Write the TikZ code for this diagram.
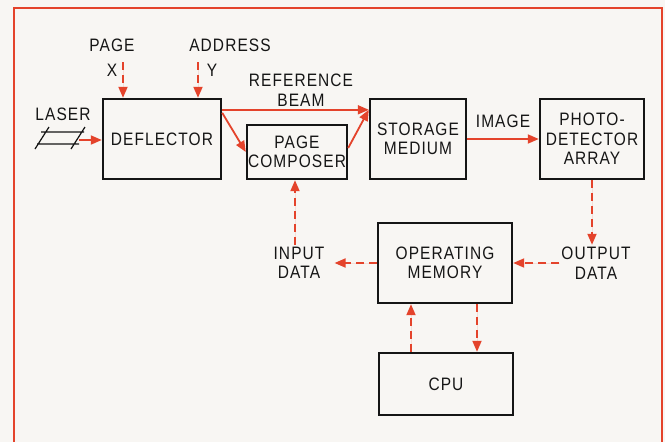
\documentclass[tikz,border=0pt]{standalone}
\usepackage{fontspec}
\setmainfont[FakeStretch=0.86, LetterSpace=6]{Liberation Sans}
\usetikzlibrary{arrows.meta,positioning,calc}
\definecolor{hmred}{HTML}{E4432B}
\definecolor{hmpaper}{HTML}{F8F6F3}
\definecolor{hmink}{HTML}{151515}
\tikzset{
  hm/.style={font=\fontsize{18}{19.5}\selectfont, text=hmink},
  hmbox/.style={draw=hmink, line width=2.4pt, align=center, inner sep=0pt},
  hmarr/.style={-{Triangle[length=11pt,width=9pt]}, line width=1.8pt, draw=hmred, fill=hmred},
  hmdash/.style={hmarr, dash pattern=on 8pt off 5pt},
  hmlbl/.style={align=center, inner sep=2pt},
}
\begin{document}
\begin{tikzpicture}[hm, x=1pt, y=-1pt]
  \useasboundingbox[fill=hmpaper] (0,0) rectangle (665,442);
  \draw[hmred, line width=2.4pt] (14,445) -- (14,8) -- (662,8) -- (662,445);

  \node[hmbox, minimum width=118pt, minimum height=80pt] (defl) at (162,139) {DEFLECTOR};
  \node[hmbox, minimum width=100pt, minimum height=54pt] (comp) at (297,152) {PAGE\\COMPOSER};
  \node[hmbox, minimum width=96pt, minimum height=80pt] (stor) at (418,139) {STORAGE\\MEDIUM};
  \node[hmbox, minimum width=104pt, minimum height=80pt] (photo) at (592,139) {PHOTO-\\DETECTOR\\ARRAY};
  \node[hmbox, minimum width=134pt, minimum height=80pt] (opmem) at (445,263) {OPERATING\\MEMORY};
  \node[hmbox, minimum width=134pt, minimum height=62pt] (cpu) at (446,384) {CPU};

  \node[hmlbl] (page) at (112,45) {PAGE};
  \node[hmlbl] (xlbl) at (112,70) {X};
  \node[hmlbl] (addr) at (230,45) {ADDRESS};
  \node[hmlbl] (ylbl) at (212,70) {Y};
  \node[hmlbl] (laser) at (63,114) {LASER};
  \node[hmlbl] (refbeam) at (301,90) {REFERENCE\\BEAM};
  \node[hmlbl] (image) at (503,121) {IMAGE};
  \node[hmlbl] (outdata) at (596,263) {OUTPUT\\DATA};
  \node[hmlbl] (indata) at (299,263) {INPUT\\DATA};

  \coordinate (pagex) at (123,62);
  \coordinate (addry) at (198,62);
  \coordinate (laserout) at (79,140);

  \draw[hmink, line width=1.2pt] (41,132) -- (84,132)
    (37,144) -- (79,144)
    (35,149) -- (49,127)
    (71,149) -- (85,127);

  \draw[hmdash] (pagex) -- (pagex |- defl.north);
  \draw[hmdash] (addry) -- (addry |- defl.north);
  \draw[hmarr] (laserout) -- (laserout -| defl.west);
  \draw[hmarr] ([yshift=-12pt]defl.north east) -- ([yshift=-12pt]stor.north west);
  \draw[hmarr] ([yshift=-15pt]defl.north east) -- (comp.west);
  \draw[hmarr] ([yshift=4pt]comp.east) -- ([yshift=-12pt]stor.north west);
  \draw[hmarr] (stor.east) -- (stor.east -| photo.west);
  \draw[hmdash] (photo.south) -- (photo.south |- outdata.north);
  \draw[hmdash] (outdata.west |- opmem.east) -- (opmem.east);
  \draw[hmdash, shorten >=8pt] (opmem.west) -- (opmem.west -| indata.east);
  \draw[hmdash] ([xshift=-4pt]indata.north) -- ([xshift=-4pt]indata.north |- comp.south);
  \draw[hmdash] ([xshift=-35pt]cpu.north) -- ([xshift=-34pt]opmem.south);
  \draw[hmdash] ([xshift=32pt]opmem.south) -- ([xshift=31pt]cpu.north);
\end{tikzpicture}
\end{document}
